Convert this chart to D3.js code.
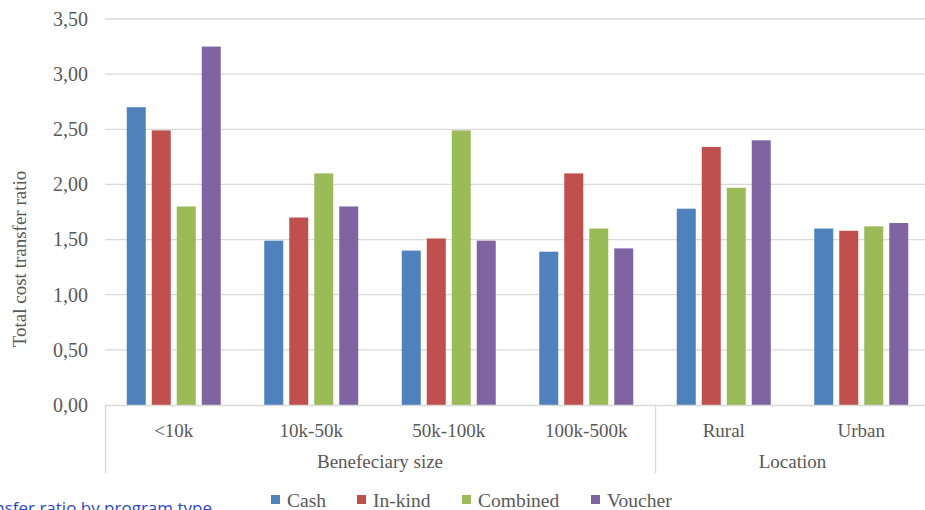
<!DOCTYPE html>
<html>
<head>
<meta charset="utf-8">
<script src="https://cdn.jsdelivr.net/npm/d3@7"></script>
<style>
  html, body { margin: 0; padding: 0; background: #fff; }
  svg { display: block; }
</style>
</head>
<body>
<svg id="chart" width="925" height="510"></svg>
<script>
// Category groups along the x axis
const categories = ["<10k", "10k-50k", "50k-100k", "100k-500k", "Rural", "Urban"];
const groupLabels = ["Benefeciary size", "Location"];
const groupSpans = [[0, 4], [4, 6]]; // category index ranges [start, end)

// Programme types (series)
const series = ["Cash", "In-kind", "Combined", "Voucher"];
const seriesColors = ["#4f81bd", "#c0504d", "#9bbb59", "#8064a2"];

// Total cost transfer ratio per category, one array per series
const cashValues     = [2.70, 1.49, 1.40, 1.39, 1.78, 1.60];
const inKindValues   = [2.49, 1.70, 1.51, 2.10, 2.34, 1.58];
const combinedValues = [1.80, 2.10, 2.49, 1.60, 1.97, 1.62];
const voucherValues  = [3.25, 1.80, 1.49, 1.42, 2.40, 1.65];

const yTicks = [0, 0.5, 1, 1.5, 2, 2.5, 3, 3.5];

const valuesBySeries = [cashValues, inKindValues, combinedValues, voucherValues];

const SERIF = "Liberation Serif, Tinos, Times New Roman, Times, Noto Serif, DejaVu Serif, FreeSerif, serif";
const svg = d3.select("#chart").attr("font-family", SERIF);
const plotLeft = 105, plotRight = 930, plotTop = 19, plotBottom = 405;
const labelSize = 19;

const locale = d3.formatLocale({ decimal: ",", thousands: ".", grouping: [3], currency: ["", ""] });
const fmt = locale.format(".2f");

const x0 = d3.scaleBand().domain(categories).range([plotLeft, plotRight]).padding(0);
const x1 = d3.scaleBand().domain(series).range([0, x0.bandwidth()])
  .paddingInner(0.24).paddingOuter(0.87);
const y = d3.scaleLinear().domain([0, 3.5]).range([plotBottom, plotTop]);

// Horizontal gridlines
svg.append("g")
  .selectAll("line")
  .data(yTicks.filter(d => d > 0))
  .join("line")
  .attr("x1", plotLeft).attr("x2", 925)
  .attr("y1", d => y(d)).attr("y2", d => y(d))
  .attr("stroke", "#d9d9d9").attr("stroke-width", 1.3);

// Y axis labels
const yAxis = d3.axisLeft(y).tickValues(yTicks).tickFormat(fmt).tickSize(0).tickPadding(0);
const yg = svg.append("g").attr("transform", `translate(${plotLeft - 17},0)`).call(yAxis);
yg.attr("font-family", SERIF).attr("font-size", 20);
yg.select(".domain").remove();
yg.selectAll("text").attr("fill", "#595959");

// Bars
const rows = categories.map((c, i) => ({ category: c, values: series.map((s, j) => ({ s, j, v: valuesBySeries[j][i] })) }));
svg.append("g")
  .selectAll("g")
  .data(rows)
  .join("g")
  .attr("transform", d => `translate(${x0(d.category)},0)`)
  .selectAll("rect")
  .data(d => d.values)
  .join("rect")
  .attr("x", d => x1(d.s))
  .attr("width", x1.bandwidth())
  .attr("y", d => y(d.v))
  .attr("height", d => y(0) - y(d.v))
  .attr("fill", d => seriesColors[d.j]);

// Baseline
svg.append("line")
  .attr("x1", plotLeft).attr("x2", 925)
  .attr("y1", plotBottom + 0.5).attr("y2", plotBottom + 0.5)
  .attr("stroke", "#d9d9d9").attr("stroke-width", 1.3);

// Category labels
svg.append("g")
  .selectAll("text")
  .data(categories)
  .join("text")
  .attr("x", d => x0(d) + x0.bandwidth() / 2)
  .attr("y", 437)
  .attr("text-anchor", "middle")
  .attr("font-size", labelSize)
  .attr("fill", "#595959")
  .text(d => d);

// Group separators (multi-level axis)
const sepIdx = [0, 4];
svg.append("g")
  .selectAll("line")
  .data(sepIdx)
  .join("line")
  .attr("x1", d => x0(categories[d]) + 0.5).attr("x2", d => x0(categories[d]) + 0.5)
  .attr("y1", plotBottom).attr("y2", 473)
  .attr("stroke", "#d9d9d9").attr("stroke-width", 1.3);

// Group labels
svg.append("g")
  .selectAll("text")
  .data(groupLabels)
  .join("text")
  .attr("x", (d, i) => {
    const a = x0(categories[groupSpans[i][0]]);
    const b = x0(categories[groupSpans[i][1] - 1]) + x0.bandwidth();
    return (a + b) / 2;
  })
  .attr("y", 468)
  .attr("text-anchor", "middle")
  .attr("font-size", labelSize)
  .attr("fill", "#595959")
  .text(d => d);

// Y axis title
svg.append("text")
  .attr("transform", "translate(26,259) rotate(-90)")
  .attr("text-anchor", "middle")
  .attr("font-size", labelSize)
  .attr("fill", "#595959")
  .text("Total cost transfer ratio");

// Legend
const legendX = [271, 357, 462, 591];
const lg = svg.append("g")
  .selectAll("g")
  .data(series)
  .join("g")
  .attr("transform", (d, i) => `translate(${legendX[i]},0)`);
lg.append("rect")
  .attr("x", 0).attr("y", 495).attr("width", 9).attr("height", 9)
  .attr("fill", (d, i) => seriesColors[i]);
lg.append("text")
  .attr("x", 16).attr("y", 507)
  .attr("font-size", 19.5)
  .attr("fill", "#595959")
  .text(d => d);

// Caption running off the bottom edge
svg.append("text")
  .attr("x", 212).attr("y", 514)
  .attr("text-anchor", "end")
  .attr("font-family", "Open Sans, sans-serif")
  .attr("font-size", 17)
  .attr("fill", "#2a46c8")
  .text("Cost transfer ratio by program type");
</script>
</body>
</html>
